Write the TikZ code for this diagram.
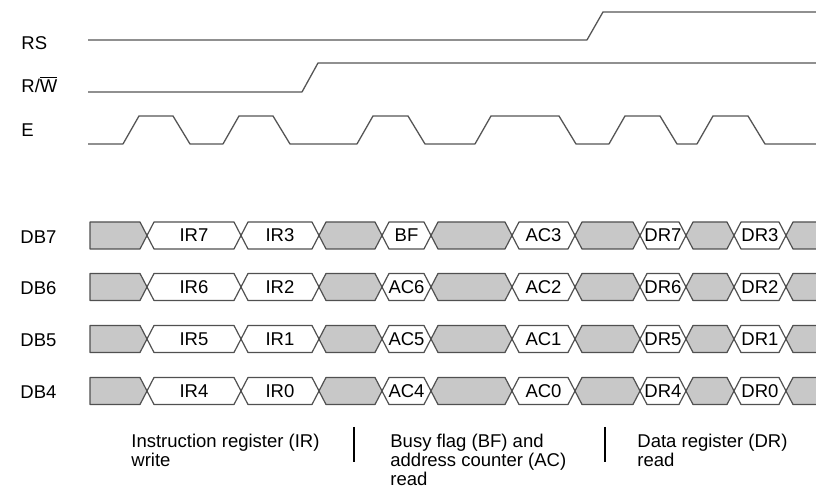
\documentclass[tikz,border=0pt]{standalone}
\usepackage{fontspec}
\setmainfont{Liberation Sans}
\usetikzlibrary{positioning}
\definecolor{wavecol}{RGB}{85,85,85}
\definecolor{busfill}{RGB}{200,200,200}
\definecolor{busline}{RGB}{80,80,80}
\tikzstyle{siglabel} = [anchor=base west, inner sep=0pt, font=\fontsize{9.25}{9}\selectfont]
\tikzstyle{buslabel} = [inner sep=0pt, font=\fontsize{9.25}{9}\selectfont]
\tikzstyle{note} = [anchor=north west, align=left, inner sep=0pt, font=\fontsize{9.25}{9.5}\selectfont]
\tikzstyle{waveline} = [draw=wavecol, line width=0.65pt, line join=round]
\tikzstyle{busgray} = [draw=busline, fill=busfill, line width=0.6pt, line join=round]
\tikzstyle{busdata} = [draw=busline, fill=white, line width=0.6pt, line join=round]
\tikzstyle{divider} = [draw=black, line width=0.8pt]

% one bus slot between two crossings: from, to, centre line, style
\newcommand{\busseg}[4]{\path[#4] (#1,#3) -- (#1+7,#3-13.5) -- (#2-7,#3-13.5) -- (#2,#3) -- (#2-7,#3+13.5) -- (#1+7,#3+13.5) -- cycle;}

\begin{document}
\begin{tikzpicture}[x=0.5pt, y=-0.5pt]
\clip (0,0) rectangle (816,490);

% Signal names
\node (rs) [siglabel] at (21,50) {RS};
\node (rw) [siglabel] at (21,93) {R/$\overline{\mbox{W}}$};
\node (e) [siglabel] at (21,137) {E};

% Waveforms
\draw [waveline] (88,40) -- (587,40) -- (603,12) -- (830,12);
\draw [waveline] (88,92) -- (302,92) -- (318,63) -- (830,63);
\draw [waveline] (88,144) \foreach \up/\down in {123/173, 223/273, 357/408, 475/559, 609/660, 697/748} {
  -- (\up,144) -- (\up+16,116) -- (\down,116) -- (\down+17,144)} -- (830,144);

% Data bus
\foreach \bit/\yc/\ia/\ib/\ac/\ad/\da/\db in {7/235.5/IR7/IR3/BF/AC3/DR7/DR3, 6/287/IR6/IR2/AC6/AC2/DR6/DR2,
  5/339/IR5/IR1/AC5/AC1/DR5/DR1, 4/391/IR4/IR0/AC4/AC0/DR4/DR0} {
  \node (db\bit) [siglabel] at (20,\yc+8) {DB\bit};
  \path[busgray] (90,\yc-13.5) -- (140,\yc-13.5) -- (147,\yc) -- (140,\yc+13.5) -- (90,\yc+13.5) -- cycle;
  \busseg{147}{241}{\yc}{busdata}
  \busseg{241}{319}{\yc}{busdata}
  \busseg{319}{382}{\yc}{busgray}
  \busseg{382}{431}{\yc}{busdata}
  \busseg{431}{512}{\yc}{busgray}
  \busseg{512}{575}{\yc}{busdata}
  \busseg{575}{640}{\yc}{busgray}
  \busseg{640}{686}{\yc}{busdata}
  \busseg{686}{734}{\yc}{busgray}
  \busseg{734}{786}{\yc}{busdata}
  \path[busgray] (786,\yc) -- (793,\yc-13.5) -- (830,\yc-13.5) -- (830,\yc+13.5) -- (793,\yc+13.5) -- cycle;
  \node (\ia) [buslabel] at (194,\yc) {\ia};
  \node (\ib) [buslabel] at (280,\yc) {\ib};
  \node (\ac) [buslabel] at (406.5,\yc) {\ac};
  \node (\ad) [buslabel] at (543.5,\yc) {\ad};
  \node (\da) [buslabel] at (663,\yc) {\da};
  \node (\db) [buslabel] at (760,\yc) {\db};
}

% Cycle notes
\node (irnote) [note] at (131,434) {Instruction register (IR)\\write};
\node (acnote) [note] at (390,434) {Busy flag (BF) and\\address counter (AC)\\read};
\node (drnote) [note] at (637,434) {Data register (DR)\\read};
\draw [divider] (354,427) -- (354,462);
\draw [divider] (605,427) -- (605,462);

\end{tikzpicture}
\end{document}
